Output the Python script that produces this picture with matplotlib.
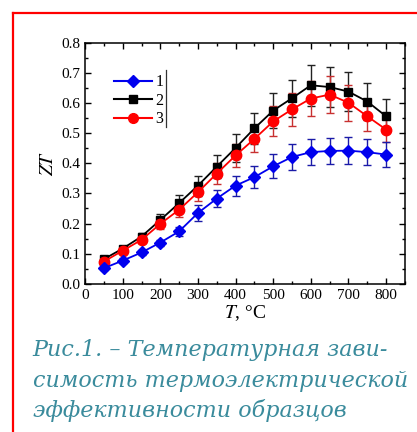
import matplotlib
matplotlib.use("Agg")
import matplotlib.pyplot as plt
from matplotlib.lines import Line2D
from matplotlib.ticker import MultipleLocator

# temperatures, C
T = [50, 100, 150, 200, 250, 300, 350, 400, 450, 500, 550, 600, 650, 700, 750, 800]

# sample 1 (blue diamonds)
zt1 = [0.052, 0.077, 0.104, 0.137, 0.174, 0.235, 0.283, 0.326, 0.354, 0.390,
       0.421, 0.437, 0.441, 0.442, 0.437, 0.429]
err1 = [0.006, 0.008, 0.009, 0.010, 0.015, 0.025, 0.028, 0.033, 0.036, 0.040,
        0.042, 0.043, 0.044, 0.045, 0.044, 0.042]

# sample 2 (black squares)
zt2 = [0.082, 0.117, 0.157, 0.212, 0.268, 0.326, 0.389, 0.451, 0.516, 0.575,
       0.616, 0.659, 0.653, 0.638, 0.605, 0.556]
err2 = [0.006, 0.008, 0.012, 0.020, 0.027, 0.033, 0.038, 0.047, 0.052, 0.059,
        0.062, 0.068, 0.067, 0.064, 0.061, 0.056]

# sample 3 (red circles)
zt3 = [0.074, 0.110, 0.146, 0.199, 0.246, 0.304, 0.366, 0.426, 0.481, 0.539,
       0.579, 0.615, 0.628, 0.601, 0.556, 0.512]
err3 = [0.006, 0.008, 0.011, 0.018, 0.025, 0.030, 0.034, 0.038, 0.045, 0.050,
        0.055, 0.058, 0.062, 0.060, 0.048, 0.040]

labels = ["1", "2", "3"]
caption = ["Рис.1. – Температурная зави-",
           "симость термоэлектрической",
           "эффективности образцов"]

plt.rcParams['font.family'] = ['Liberation Serif', 'DejaVu Serif']
plt.rcParams['mathtext.fontset'] = 'stix'

fig = plt.figure(figsize=(4.17, 4.32), dpi=100)
ax = fig.add_axes([0.204, 0.343, 0.767, 0.558])

kw = dict(capsize=3, elinewidth=1.0, capthick=1.0, linewidth=1.3)
h2 = ax.errorbar(T, zt2, yerr=err2, color='black', ecolor='#222222',
                 marker='s', ms=6, **kw)
h3 = ax.errorbar(T, zt3, yerr=err3, color='#ff0000', ecolor='#c83030',
                 marker='o', ms=7.5, **kw)
h1 = ax.errorbar(T, zt1, yerr=err1, color='#0000ee', ecolor='#1a1aa8',
                 marker='D', ms=6.5, **kw)

ax.set_xlim(0, 850)
ax.set_ylim(0, 0.8)
ax.xaxis.set_major_locator(MultipleLocator(100))
ax.xaxis.set_minor_locator(MultipleLocator(50))
ax.yaxis.set_major_locator(MultipleLocator(0.1))
ax.yaxis.set_minor_locator(MultipleLocator(0.05))
ax.set_yticklabels([f"{v:.1f}" for v in ax.get_yticks()])
ax.tick_params(which='both', direction='in', top=True, right=True,
               labelsize=11, width=1.0)
ax.tick_params(which='major', length=4)
ax.tick_params(which='minor', length=2.5)
for s in ax.spines.values():
    s.set_linewidth(1.1)

ax.set_xlabel(r"$T$, °C", fontsize=14, labelpad=1)
ax.set_ylabel(r"$ZT$", fontsize=14, labelpad=3)

leg_h = [Line2D([], [], color='#0000ee', marker='D', ms=6),
         Line2D([], [], color='black', marker='s', ms=6),
         Line2D([], [], color='#ff0000', marker='o', ms=7)]
ax.legend(leg_h, labels, loc='upper left', bbox_to_anchor=(0.055, 0.915),
          frameon=False, fontsize=11.5, handlelength=2.4, handletextpad=0.2,
          labelspacing=0.15, borderpad=0.2)
ax.plot([0.252, 0.252], [0.65, 0.888], transform=ax.transAxes,
        color='#333333', lw=0.9)

# caption
for i, line in enumerate(caption):
    fig.text(0.078, 1 - (350 + 30.5 * i) / 432, line, fontsize=16,
             family='DejaVu Serif', style='italic', color='#3a8b9c',
             va='center', ha='left')

# red frame (left and top only)
fig.add_artist(Line2D([12.5 / 417, 12.5 / 417], [0, 1 - 12.5 / 432],
                      color='red', lw=1.6, transform=fig.transFigure))
fig.add_artist(Line2D([12.5 / 417, 1], [1 - 12.5 / 432, 1 - 12.5 / 432],
                      color='red', lw=1.6, transform=fig.transFigure))

fig.savefig("out.png", dpi=100)
